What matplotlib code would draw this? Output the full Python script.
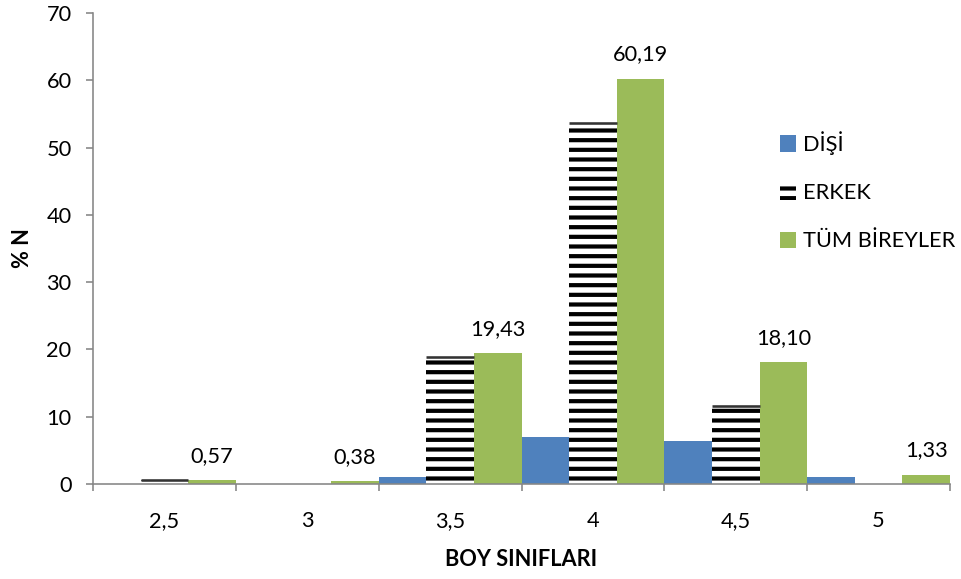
import numpy as np
import matplotlib
matplotlib.use("Agg")
import matplotlib.pyplot as plt

# Size classes and percentage frequencies per group
categories = ["2,5", "3", "3,5", "4", "4,5", "5"]
disi = [0.0, 0.0, 1.1, 7.0, 6.4, 1.1]
erkek = [0.6, 0.0, 18.9, 53.7, 11.6, 0.0]
tum = [0.57, 0.38, 19.43, 60.19, 18.10, 1.33]
series_names = ["DİŞİ", "ERKEK", "TÜM BİREYLER"]
y_ticks = [0, 10, 20, 30, 40, 50, 60, 70]

DPI = 116
FS = 13.5
plt.rcParams["font.family"] = ["Lato", "DejaVu Sans"]
plt.rcParams["hatch.linewidth"] = 2.6
plt.rcParams["hatch.color"] = "black"

fig = plt.figure(figsize=(961 / DPI, 579 / DPI), dpi=DPI)
ax = fig.add_axes([93 / 961, 1 - 484 / 579, (950 - 93) / 961, (484 - 13) / 579])

x = np.arange(len(categories))
w = 1 / 3
blue = "#4F81BD"
green = "#9BBB59"

ax.bar(x - w, disi, w, color=blue, label=series_names[0], linewidth=0)
ax.bar(x, erkek, w, color="white", hatch="--", edgecolor="black",
       linewidth=0, label=series_names[1])
# thin dark cap on top of each striped bar
erk = np.array(erkek)
mask = erk > 0
ax.hlines(erk[mask], x[mask] - w / 2, x[mask] + w / 2, colors="#333333",
          linewidth=1.6, zorder=3)
b3 = ax.bar(x + w, tum, w, color=green, label=series_names[2], linewidth=0)

for rect, v in zip(b3, tum):
    ax.annotate(f"{v:.2f}".replace(".", ","),
                (rect.get_x() + rect.get_width() / 2, v),
                xytext=(0, 9), textcoords="offset points",
                ha="center", va="bottom", fontsize=FS, color="black")

axis_gray = "#868686"
ax.set_xlim(-0.5, len(categories) - 0.5)
ax.set_ylim(0, 70)
ax.set_yticks(y_ticks)
ax.set_xticks(x)
ax.set_xticklabels(categories)
ax.set_xticks(np.arange(len(categories) + 1) - 0.5, minor=True)
ax.tick_params(axis="x", which="major", length=0, pad=17, labelsize=FS)
ax.tick_params(axis="x", which="minor", length=4.3, color=axis_gray, width=1)
ax.tick_params(axis="y", length=4.3, color=axis_gray, width=1, labelsize=FS, pad=9)

for s in ["top", "right"]:
    ax.spines[s].set_visible(False)
for s in ["left", "bottom"]:
    ax.spines[s].set_color(axis_gray)
    ax.spines[s].set_linewidth(1)

ax.set_xlabel("BOY SINIFLARI", fontsize=13.5, fontweight="bold", labelpad=11)
ax.set_ylabel("% N", fontsize=13.5, fontweight="bold", labelpad=8)

fig.legend(loc="upper left", bbox_to_anchor=(780 / 961, 1 - 131 / 579),
           frameon=False, fontsize=FS, handlelength=0.75, handleheight=0.8,
           handletextpad=0.3, labelspacing=1.3, borderpad=0,
           borderaxespad=0)

fig.savefig("out.png", dpi=DPI)
